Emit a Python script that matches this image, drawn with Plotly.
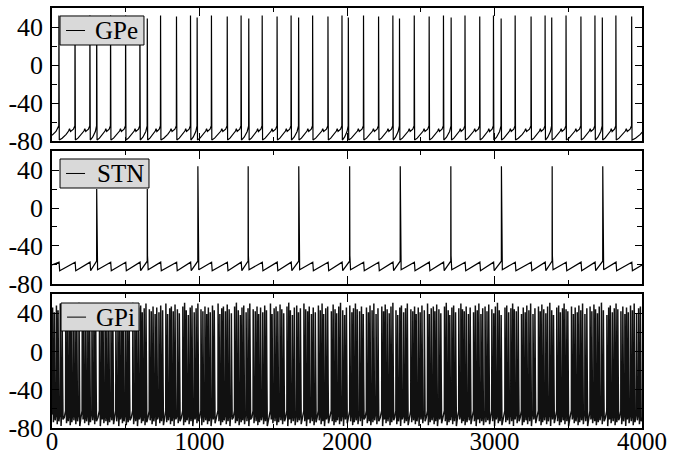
import plotly.graph_objects as go

# ---------------- data ----------------
T_END = 4000

# GPe spike times (ms) and peak voltages (mV)
gpe_spikes = [47, 156, 257, 303, 397, 499, 596, 646, 736, 844, 939, 984, 1081, 1188,
              1282, 1334, 1425, 1526, 1621, 1672, 1767, 1871, 1966, 2009, 2112, 2214,
              2311, 2356, 2456, 2557, 2654, 2706, 2800, 2900, 2993, 3045, 3140, 3248,
              3343, 3388, 3485, 3586, 3681, 3731, 3823, 3930]
gpe_peaks = [52, 51, 52, 50, 52, 52, 51, 49, 52, 51, 52, 50, 52, 51, 52, 49, 52, 51,
             52, 50, 52, 51, 52, 50, 52, 51, 52, 49, 52, 51, 52, 50, 52, 51, 52, 49,
             52, 51, 52, 50, 52, 51, 52, 50, 52, 51]

# STN spike times (ms) and peaks (mV)
stn_spikes = [303, 646, 989, 1330, 1673, 2018, 2361, 2704, 3047, 3391, 3734]
stn_peaks = [20, 20, 44, 44, 44, 44, 44, 44, 44, 44, 44]

# GPi inter-spike intervals (ms), first spike time, peaks and troughs (mV)
gpi_first = 4
gpi_isi = [12, 14, 11, 15, 13, 24, 12, 13, 11, 14,
           13, 12, 15, 22, 11, 13, 14, 12, 16, 13,
           12, 26, 13, 11, 14, 12, 13, 15, 12, 21,
           14, 12, 13, 11, 15, 13, 12, 25, 14, 12,
           13, 14, 11, 13, 12, 23, 13, 12, 14, 11,
           15, 12, 13, 22, 12, 14, 11, 13, 12, 16,
           13, 24, 12, 11, 14, 13, 12, 15, 13, 12,
           21, 13, 14, 12, 11, 13, 15, 12, 26, 12,
           13, 11, 14, 12, 13, 15, 22, 12, 13, 14,
           11, 12, 16, 13, 12, 23, 14, 12, 11, 13,
           15, 13, 12, 27, 11, 14, 13, 12, 15, 12,
           13, 22, 12, 11, 14, 13, 16, 12, 13, 24,
           12, 13, 11, 15, 12, 14, 21, 13, 12, 11,
           14, 13, 25, 12, 13, 11, 14, 12, 15, 13,
           12, 23, 14, 11, 13, 12, 16, 13, 12, 22,
           13, 11, 14, 12, 15, 13, 26, 12, 11, 13,
           14, 12, 13, 21, 12, 14, 11, 15, 13, 12,
           24, 13, 12, 11, 14, 13, 12, 16, 22, 12,
           13, 14, 11, 12, 15, 13, 25, 12, 13, 11,
           14, 12, 13, 22, 14, 11, 12, 13, 15, 12,
           23, 12, 13, 11, 14, 12, 16, 13, 12, 21,
           13, 11, 14, 12, 13, 26, 12, 13, 15, 12,
           11, 14, 13, 22, 12, 13, 11, 14, 12, 16,
           13, 24, 12, 11, 13, 14, 12, 15, 13, 12,
           22, 13, 12, 14, 11, 13, 12, 25, 13, 12,
           14, 11, 13, 12, 16, 13, 22, 12, 14, 11,
           13, 12, 15, 13, 24, 12, 11, 14, 13, 12,
           12, 21, 13, 14, 11, 12, 15, 13, 12, 16,
           14, 12]
gpi_peaks = [46, 41, 48, 43, 50, 39, 45, 47, 42, 49, 44, 40, 47, 51, 43, 38, 46, 48,
             41, 45, 50, 44, 42, 47, 39]
gpi_troughs = [-74, -72, -76, -73, -78, -71, -75, -73, -77]

y_ticks = [-80, -40, 0, 40]
y_ticktext = ["-80", "-40", "0", "40"]
x_ticks = [0, 1000, 2000, 3000, 4000]
x_ticktext = ["0", "1000", "2000", "3000", "4000"]
labels = ["GPe", "STN", "GPi"]

# ---------------- waveform construction ----------------
def gpe_trace(spikes, peaks):
    xs, ys = [0, spikes[0] - 20, spikes[0] - 1], [-74, -70, -64]
    for i, t in enumerate(spikes):
        xs += [t, t + 1.2, t + 2.5]
        ys += [peaks[i], -40, -79]
        nxt = spikes[i + 1] if i + 1 < len(spikes) else T_END + 60
        d = nxt - t
        if d > 70:
            fr = [0.2, 0.45, 0.6, 0.66, 0.72, 0.9]
            vv = [-77, -73, -69.5, -67, -70, -67.5]
        else:
            fr = [0.4, 0.8]
            vv = [-76, -70]
        for f, v in zip(fr, vv):
            xs.append(t + f * d)
            ys.append(v)
        xs.append(nxt - 1)
        ys.append(-64)
    return xs, ys


def stn_trace(spikes, peaks, inh):
    events = [(t, "s", p) for t, p in zip(spikes, peaks)]
    for t in inh:
        if min(abs(t - s) for s in spikes) > 12:
            events.append((t, "i", None))
    events.sort()
    xs, ys = [0], [-60]
    for t, kind, p in events:
        if kind == "i":
            xs += [t + 1, t + 5]
            ys += [-57, -66]
        else:
            xs += [t - 0.5, t, t + 1.5, t + 6]
            ys += [-56, p, -50, -65]
    xs.append(T_END)
    ys.append(-60)
    return xs, ys


def gpi_trace(first, isi, peaks, troughs):
    times = [first]
    for d in isi:
        times.append(times[-1] + d)
    xs, ys = [0], [-66]
    for i, t in enumerate(times):
        xs += [t - 0.8, t, t + 3.0, t + 5.5]
        ys += [-62, peaks[i % len(peaks)], -30, troughs[i % len(troughs)]]
        nxt = times[i + 1] if i + 1 < len(times) else T_END + 10
        xs += [t + 0.6 * (nxt - t)]
        ys += [-69]
    return xs, ys


gx, gy = gpe_trace(gpe_spikes, gpe_peaks)
sx, sy = stn_trace(stn_spikes, stn_peaks, gpe_spikes)
px, py = gpi_trace(gpi_first, gpi_isi, gpi_peaks, gpi_troughs)

# ---------------- figure ----------------
SERIF = "Liberation Serif, Times New Roman, Times, serif"
fig = go.Figure()
fig.add_trace(go.Scatter(x=gx, y=gy, mode="lines", line=dict(color="black", width=1.2),
                         name="GPe", xaxis="x", yaxis="y", showlegend=False))
fig.add_trace(go.Scatter(x=sx, y=sy, mode="lines", line=dict(color="black", width=1.2),
                         name="STN", xaxis="x2", yaxis="y2", showlegend=False))
fig.add_trace(go.Scatter(x=px, y=py, mode="lines", line=dict(color="#111111", width=1.5),
                         name="GPi", xaxis="x3", yaxis="y3", showlegend=False))

font = dict(family=SERIF, size=26, color="black")
xfont = dict(family=SERIF, size=25, color="black")
domains = [[0.6833, 1.0], [0.3429, 0.6595], [0.0, 0.319]]
names = ["", "2", "3"]
for k, (nm, dom) in enumerate(zip(names, domains)):
    xa = dict(range=[0, T_END], domain=[0, 1], anchor="y" + nm, automargin=False,
              tickvals=x_ticks, ticktext=x_ticktext, ticks="inside", ticklen=8,
              tickwidth=1, tickcolor="black", showline=True, linecolor="black",
              linewidth=1.5, mirror="ticks", showgrid=False, zeroline=False,
              showticklabels=(k == 2), tickfont=xfont, ticklabelstandoff=-10,
              minor=dict(tickvals=[500, 1500, 2500, 3500], ticks="inside",
                         ticklen=4, tickcolor="black", tickwidth=1, showgrid=False))
    ya = dict(range=[-80, 60], domain=dom, anchor="x" + nm, automargin=False,
              tickvals=y_ticks, ticktext=y_ticktext, ticks="inside", ticklen=7,
              tickwidth=1, tickcolor="black", showline=True, linecolor="black",
              linewidth=1.5, mirror="ticks", showgrid=False, zeroline=False,
              tickfont=font, ticklabelstandoff=2,
              minor=dict(tickvals=[-60, -20, 20], ticks="inside", ticklen=5,
                         tickcolor="black", tickwidth=1, showgrid=False))
    if k > 0:
        xa["matches"] = "x"
    fig.layout["xaxis" + nm] = xa
    fig.layout["yaxis" + nm] = ya

# legend-like boxes (paper coordinates)
boxes = [
    dict(x0=0.0136, x1=0.1559, y0=0.9119, y1=0.981, ly=0.9464, tx=0.0695),
    dict(x0=0.0136, x1=0.1644, y0=0.5714, y1=0.6405, ly=0.606, tx=0.0729),
    dict(x0=0.0153, x1=0.1475, y0=0.2310, y1=0.2976, ly=0.264, tx=0.0712),
]
shapes, annots = [], []
for b, lab in zip(boxes, labels):
    shapes.append(dict(type="rect", xref="paper", yref="paper", x0=b["x0"], x1=b["x1"],
                       y0=b["y0"], y1=b["y1"], fillcolor="#d9d9d9",
                       line=dict(color="black", width=1), layer="above"))
    shapes.append(dict(type="line", xref="paper", yref="paper", x0=b["x0"] + 0.0102,
                       x1=b["x0"] + 0.0424, y0=b["ly"], y1=b["ly"],
                       line=dict(color="black", width=1), layer="above"))
    annots.append(dict(xref="paper", yref="paper", x=b["tx"], y=b["ly"], text=lab,
                       showarrow=False, xanchor="left", yanchor="middle",
                       font=dict(family=SERIF, size=25, color="black")))

fig.update_layout(width=682, height=456, margin=dict(l=52, r=40, t=8, b=28, autoexpand=False),
                  paper_bgcolor="white", plot_bgcolor="white",
                  shapes=shapes, annotations=annots, showlegend=False)

fig.write_html("out.html", config={"displayModeBar": False},
               post_script="document.body.style.margin='0px';")
